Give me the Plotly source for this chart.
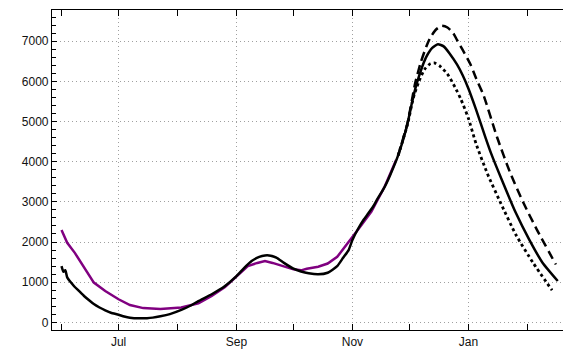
import plotly.graph_objects as go

# ---- data ----
model_dates = [
    "2020-06-01", "2020-06-02", "2020-06-03", "2020-06-04", "2020-06-06", "2020-06-08",
    "2020-06-10", "2020-06-13", "2020-06-16", "2020-06-18", "2020-06-21", "2020-06-24",
    "2020-06-27", "2020-07-01", "2020-07-04", "2020-07-07", "2020-07-12", "2020-07-16",
    "2020-07-19", "2020-07-23", "2020-07-28", "2020-08-03", "2020-08-08", "2020-08-12",
    "2020-08-19", "2020-08-26", "2020-09-01", "2020-09-05", "2020-09-09", "2020-09-13",
    "2020-09-16", "2020-09-19", "2020-09-22", "2020-09-26", "2020-10-01", "2020-10-05",
    "2020-10-09", "2020-10-14", "2020-10-19", "2020-10-24", "2020-10-27", "2020-10-30",
    "2020-11-01", "2020-11-04", "2020-11-07", "2020-11-09", "2020-11-12", "2020-11-14",
    "2020-11-17", "2020-11-19", "2020-11-21", "2020-11-25", "2020-11-28", "2020-11-30",
    "2020-12-02", "2020-12-04", "2020-12-06", "2020-12-08", "2020-12-10", "2020-12-13",
    "2020-12-16", "2020-12-19", "2020-12-22", "2020-12-26", "2020-12-29", "2021-01-01",
    "2021-01-05", "2021-01-10", "2021-01-13", "2021-01-19", "2021-01-26", "2021-02-02",
    "2021-02-09", "2021-02-17",
]
model_values = [
    1400, 1260, 1300, 1120, 990, 880,
    790, 650, 530, 455, 370, 300,
    240, 190, 145, 115, 100, 105,
    118, 150, 205, 310, 420, 530,
    700, 905, 1150, 1350, 1525, 1630,
    1665, 1660, 1610, 1480, 1335, 1265,
    1220, 1195, 1235, 1400, 1600, 1800,
    2050, 2330, 2560, 2690, 2890, 3060,
    3290, 3470, 3680, 4150, 4600, 4950,
    5400, 5800, 6120, 6400, 6620, 6830,
    6925, 6870, 6700, 6420, 6150, 5820,
    5300, 4600, 4200, 3500, 2720, 2060,
    1485, 1030,
]

high_dates = [
    "2020-11-25", "2020-11-30", "2020-12-04", "2020-12-07", "2020-12-10", "2020-12-12",
    "2020-12-15", "2020-12-18", "2020-12-21", "2020-12-24", "2020-12-26", "2020-12-29",
    "2021-01-02", "2021-01-05", "2021-01-09", "2021-01-16", "2021-01-23", "2021-01-30",
    "2021-02-06", "2021-02-16",
]
high_values = [
    4150, 4970, 5950, 6480, 6880, 7090,
    7290, 7380, 7340, 7200, 7030, 6780,
    6430, 6080, 5650, 4620, 3720, 2970,
    2310, 1440,
]

low_dates = [
    "2020-11-25", "2020-11-30", "2020-12-03", "2020-12-06", "2020-12-09", "2020-12-12",
    "2020-12-14", "2020-12-17", "2020-12-21", "2020-12-25", "2020-12-28", "2021-01-01",
    "2021-01-05", "2021-01-11", "2021-01-18", "2021-01-26", "2021-02-04", "2021-02-14",
]
low_values = [
    4150, 4930, 5580, 6000, 6300, 6440,
    6460, 6380, 6180, 5850, 5560, 5080,
    4450, 3700, 2970, 2180, 1485, 800,
]

obs_dates = [
    "2020-06-01", "2020-06-04", "2020-06-08", "2020-06-11", "2020-06-13", "2020-06-18",
    "2020-06-24", "2020-07-01", "2020-07-07", "2020-07-14", "2020-07-23", "2020-08-03",
    "2020-08-12", "2020-08-19", "2020-08-26", "2020-09-02", "2020-09-07", "2020-09-12",
    "2020-09-16", "2020-09-20", "2020-09-25", "2020-10-01", "2020-10-05", "2020-10-08",
    "2020-10-14", "2020-10-19", "2020-10-24", "2020-10-29", "2020-11-04", "2020-11-11",
    "2020-11-18", "2020-11-24",
]
obs_values = [
    2300, 1980, 1730, 1500, 1360, 990,
    780, 575, 430, 355, 330, 370,
    475, 660, 880, 1195, 1400, 1480,
    1525, 1480, 1400, 1320, 1295, 1335,
    1385, 1465, 1630, 1935, 2310, 2760,
    3380, 4040,
]

y_ticks = [0, 1000, 2000, 3000, 4000, 5000, 6000, 7000]
x_tick_vals = ["2020-07-01", "2020-09-01", "2020-11-01", "2021-01-01"]
x_tick_labels = ["Jul", "Sep", "Nov", "Jan"]
x_minor_vals = ["2020-06-01", "2020-08-01", "2020-10-01", "2020-12-01", "2021-02-01"]

# ---- figure ----
fig = go.Figure()
fig.add_trace(go.Scatter(x=obs_dates, y=obs_values, mode="lines",
                         line=dict(color="#800080", width=2.5), showlegend=False))
fig.add_trace(go.Scatter(x=model_dates, y=model_values, mode="lines",
                         line=dict(color="black", width=2.5, shape="spline", smoothing=0.5),
                         showlegend=False))
fig.add_trace(go.Scatter(x=high_dates, y=high_values, mode="lines",
                         line=dict(color="black", width=2.5, dash="9px,5px", shape="spline", smoothing=0.6),
                         showlegend=False))
fig.add_trace(go.Scatter(x=low_dates, y=low_values, mode="lines",
                         line=dict(color="black", width=2.8, dash="3px,3px", shape="spline", smoothing=0.6),
                         showlegend=False))

font = dict(family="Liberation Sans, Arial, sans-serif", size=12, color="#111")

# page body has an 8px margin: figure sized so it fits the 571x350 window
fig.update_layout(
    width=563, height=342,
    margin=dict(l=44, r=1, t=1, b=19),
    paper_bgcolor="white", plot_bgcolor="white",
    font=font,
    showlegend=False,
)
fig.update_xaxes(
    type="date",
    range=["2020-05-27", "2021-02-22 22:00"],
    tickmode="array",
    tickvals=x_tick_vals,
    ticktext=x_tick_labels,
    ticks="inside", ticklen=6, tickcolor="black", tickwidth=1,
    minor=dict(tickmode="array", tickvals=x_minor_vals,
               ticks="inside", ticklen=6, tickcolor="black", showgrid=False),
    showgrid=True, gridcolor="#a0a0a0", griddash="1px,3px", gridwidth=1,
    showline=True, linecolor="black", linewidth=1.2, mirror="allticks",
    zeroline=False,
)
fig.update_yaxes(
    range=[-190, 7775],
    tickmode="array", tickvals=y_ticks,
    ticks="inside", ticklen=5, tickcolor="black", tickwidth=1,
    minor=dict(dtick=200, tick0=0, ticks="inside", ticklen=4, tickcolor="black", showgrid=False),
    showgrid=True, gridcolor="#a0a0a0", griddash="1px,3px", gridwidth=1,
    showline=True, linecolor="black", linewidth=1.2, mirror="allticks",
    zeroline=False,
)

fig.write_html("out.html")
